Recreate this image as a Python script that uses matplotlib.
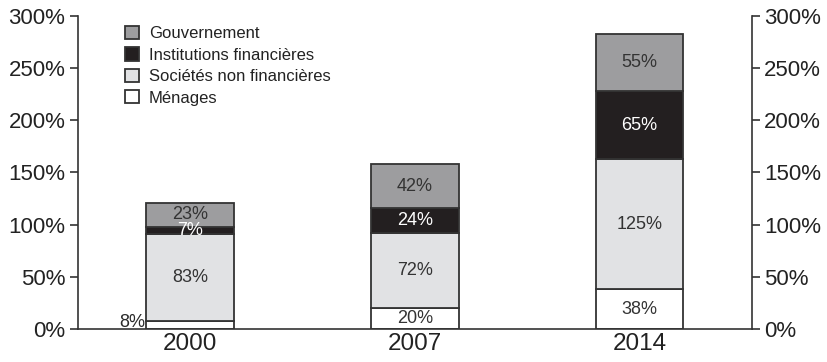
import matplotlib.pyplot as plt
import numpy as np

plt.rcParams['font.family'] = ['Liberation Sans', 'DejaVu Sans']

# Dette par secteur, en % du PIB
annees = ['2000', '2007', '2014']
menages = [8, 20, 38]
societes = [83, 72, 125]
institutions = [7, 24, 65]
gouvernement = [23, 42, 55]

series = [
    ('Ménages', menages, '#ffffff', '#333333'),
    ('Sociétés non financières', societes, '#e1e2e4', '#333333'),
    ('Institutions financières', institutions, '#231f20', '#ffffff'),
    ('Gouvernement', gouvernement, '#9d9d9f', '#333333'),
]

fig = plt.figure(figsize=(8.28, 3.62), dpi=100)
ax = fig.add_axes([0.094, 0.091, 0.814, 0.865])

x = np.arange(len(annees))
largeur = 0.39
bas = np.zeros(len(annees))
handles = []
for nom, vals, couleur, couleur_txt in series:
    vals = np.array(vals, dtype=float)
    b = ax.bar(x, vals, largeur, bottom=bas, color=couleur,
               edgecolor='#333333', linewidth=1.3, label=nom, zorder=2)
    handles.append(b)
    for i, v in enumerate(vals):
        if nom == 'Ménages' and i == 0:
            # segment trop fin : étiquette à gauche de la barre
            ax.text(x[i] - largeur / 2 - 0.005, bas[i] + v / 2 + 2, f'{int(v)}%',
                    ha='right', va='center', fontsize=13, color='#2a2a2a')
        else:
            ax.text(x[i], bas[i] + v / 2, f'{int(v)}%', ha='center',
                    va='center', fontsize=13, color=couleur_txt, zorder=3)
    bas += vals

ax.set_xlim(-0.5, 2.5)
ax.set_ylim(0, 300)
ax.set_xticks(x)
ax.set_xticklabels(annees, fontsize=17.5, color='#222222')
ax.tick_params(axis='x', length=0, pad=3)

yt = np.arange(0, 301, 50)
ax.set_yticks(yt)
ax.set_yticklabels([f'{v}%' for v in yt], fontsize=16, color='#222222')
ax.tick_params(axis='y', length=6, width=1.2, color='#333333', pad=3,
               left=True, right=True, labelleft=True, labelright=True)

for s in ['left', 'right', 'bottom']:
    ax.spines[s].set_color('#333333')
    ax.spines[s].set_linewidth(1.2)
ax.spines['top'].set_visible(False)

leg = ax.legend(handles[::-1], [s[0] for s in series][::-1], loc='upper left',
                bbox_to_anchor=(0.055, 1.0), frameon=False, fontsize=12,
                handlelength=0.85, handleheight=0.85, handletextpad=0.6,
                labelspacing=0.36, borderaxespad=0.2)
for t in leg.get_texts():
    t.set_color('#222222')

fig.savefig('out.png', dpi=100)
